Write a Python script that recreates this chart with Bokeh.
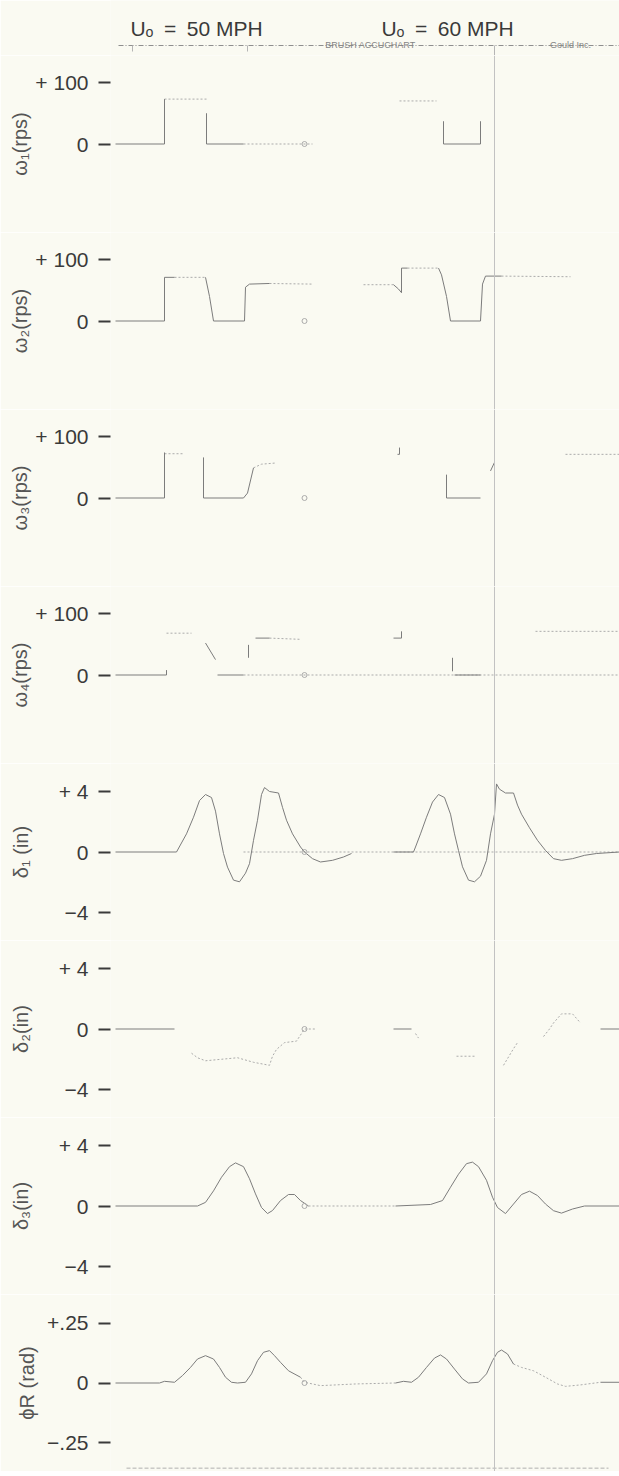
import math
from bokeh.plotting import figure
from bokeh.layouts import column
from bokeh.models import FixedTicker, Span, Range1d
from bokeh.embed import file_html
from bokeh.resources import INLINE
from bokeh.core.properties import value

NaN = float("nan")

# ---------------- data (chart position in divisions, channel values) ----------------
TITLES = ["U\u2092\u2002=\u200250 MPH", "U\u2092\u2002=\u200260 MPH"]
TITLE_T = [8.1, 33.2]
CREASE_T = 37.9
MARK_T = 18.9

# omega 1 (rps)
W1_T = [0, 4.9, 4.9, NaN, 9.1, 9.1, 12.8, NaN, 32.8, 32.8, 36.5, 36.5]
W1_V = [0, 0, 73, NaN, 50, 0, 0, NaN, 37, 0, 0, 37]
W1_FT = [4.9, 9.1, NaN, 12.8, 19.7, NaN, 28.4, 32.1]
W1_FV = [73, 73, NaN, 0, 0, NaN, 70, 70]

# omega 2 (rps)
W2_T = [0, 4.9, 4.9, 5.9, NaN, 9.0, 9.4, 9.8, 12.9, 13.0, 13.4, 15.4, NaN,
        27.8, 28.3, 28.6, 28.6, 29.2, NaN, 32.3, 32.6, 33.1, 33.5, 36.5, 36.7, 37.0, 38.6]
W2_V = [0, 0, 71, 71, NaN, 71, 40, 0, 0, 55, 60, 61, NaN,
        59, 52, 46, 86, 86, NaN, 86, 75, 40, 0, 0, 60, 73, 73]
W2_FT = [5.9, 9.0, NaN, 15.4, 19.7, NaN, 24.8, 27.8, NaN, 29.2, 32.3, NaN, 38.6, 45.5]
W2_FV = [71, 71, NaN, 61, 60, NaN, 59, 59, NaN, 86, 86, NaN, 73, 72]

# omega 3 (rps)
W3_T = [0, 4.9, 4.9, NaN, 8.8, 8.8, 12.8, 13.2, 13.8, NaN, 28.2, 28.4, 28.4, NaN,
        33.1, 33.1, 36.5, NaN, 37.5, 37.9]
W3_V = [0, 0, 74, NaN, 66, 0, 0, 8, 49, NaN, 71, 71, 82, NaN,
        38, 0, 0, NaN, 44, 58]
W3_FT = [4.9, 6.9, NaN, 13.8, 14.6, 16.1, NaN, 45.0, 50.4]
W3_FV = [72, 72, NaN, 49, 55, 57, NaN, 71, 71]

# omega 4 (rps)
W4_T = [0, 5.1, 5.1, NaN, 9.0, 10.0, NaN, 10.2, 12.8, NaN, 13.3, 13.3, NaN, 14.0, 15.4, NaN,
        27.8, 28.6, 28.6, NaN, 33.7, 33.7, NaN, 33.9, 36.5]
W4_V = [0, 0, 8, NaN, 52, 25, NaN, 0, 0, NaN, 28, 49, NaN, 60, 60, NaN,
        60, 60, 71, NaN, 28, 6, NaN, 0, 0]
W4_FT = [5.1, 7.6, NaN, 15.4, 18.5, NaN, 12.8, 50.4, NaN, 42.0, 50.4]
W4_FV = [68, 68, NaN, 60, 58, NaN, 0, 0, NaN, 71, 71]

# delta 1 (in)
D1_T = [0, 6.1, 7.1, 7.8, 8.4, 9.0, 9.6, 10.0, 10.4, 10.8, 11.2, 11.8, 12.4, 13.0, 13.4, 13.8,
        14.2, 14.6, 14.9, 15.4, 16.3, 16.7, 17.1, 17.7, 18.5, 18.9, 19.7, 20.5, 21.7, 22.8, 23.6, NaN,
        27.8, 29.8, 30.0, 30.5, 31.1, 31.7, 32.3, 32.9, 33.5, 33.9, 34.3, 34.7, 35.3, 35.9, 36.5,
        37.1, 37.5, 37.9, 38.1, 38.4, 39.0, 39.8, 40.2, 40.6, 41.4, 42.2, 43.0, 43.8, 44.6, 45.7,
        46.9, 48.1, 50.4]
D1_V = [0, 0, 1.2, 2.3, 3.4, 3.8, 3.6, 2.7, 1.2, -0.1, -1.0, -1.86, -1.97, -1.4, -0.77, 0.77,
        2.1, 3.8, 4.26, 4.0, 3.9, 2.95, 2.1, 1.2, 0.33, 0, -0.44, -0.66, -0.55, -0.33, -0.1, NaN,
        0, 0, 0.33, 1.2, 2.3, 3.3, 3.8, 3.6, 2.5, 1.2, 0.1, -0.98, -1.86, -1.97, -1.6,
        -0.55, 1.2, 2.5, 4.5, 4.15, 3.9, 3.9, 3.1, 2.5, 1.6, 0.77, 0.1, -0.44, -0.55, -0.44,
        -0.22, -0.1, 0]
D1_FT = [12.8, 50.4]
D1_FV = [0, 0]

# delta 2 (in)
D2_T = [0, 5.9, NaN, 27.8, 29.6, NaN, 48.5, 50.4]
D2_V = [0, 0, NaN, 0, 0, NaN, 0, 0]
D2_FT = [7.6, 8.2, 9.0, 10.6, 12.2, 13.8, 15.4, 15.7, 16.1, 16.9, 18.1, 18.9, 20.1, NaN,
         30.0, 30.3, NaN, 34.1, 35.9, NaN, 38.8, 39.8, 40.2, NaN,
         42.8, 43.4, 43.8, 44.6, 45.7, 46.5]
D2_FV = [-1.6, -1.9, -2.1, -2.0, -1.9, -2.2, -2.4, -1.8, -1.35, -0.9, -0.8, 0, 0, NaN,
         -0.3, -0.6, NaN, -1.8, -1.8, NaN, -2.4, -1.3, -0.9, NaN,
         -0.5, 0, 0.4, 1.0, 1.0, 0.4]

# delta 3 (in)
D3_T = [0, 8.2, 9.0, 9.8, 10.6, 11.4, 12.0, 12.8, 13.4, 14.0, 14.6, 15.2, 15.7, 16.5, 17.3,
        17.9, 18.5, 19.3, NaN,
        28.0, 31.5, 32.7, 33.5, 34.3, 35.1, 35.7, 36.3, 37.1, 37.7, 38.2, 39.0, 39.8, 40.6,
        41.4, 42.2, 43.0, 43.8, 44.6, 45.7, 46.9, 50.4]
D3_V = [0, 0, 0.24, 1.0, 1.9, 2.6, 2.85, 2.6, 1.8, 0.8, -0.1, -0.5, -0.3, 0.36, 0.76,
        0.76, 0.36, 0, NaN,
        0, 0.1, 0.36, 1.24, 2.1, 2.8, 2.9, 2.6, 1.7, 0.58, -0.1, -0.5, 0.13, 0.76,
        0.98, 0.69, 0.13, -0.31, -0.47, -0.2, 0, 0]
D3_FT = [19.3, 28.0]
D3_FV = [0, 0]

# phi R (rad)
PR_T = [0, 4.4, 4.9, 5.9, 6.7, 7.5, 8.2, 9.0, 9.8, 10.4, 11.0, 11.6, 12.2, 13.0, 13.6, 14.2,
        14.8, 15.4, 15.9, 16.5, 17.3, 18.5, NaN,
        28.0, 28.8, 29.6, 30.3, 31.1, 31.9, 32.5, 33.1, 33.9, 34.7, 35.3, 36.3, 37.1, 37.7,
        38.2, 38.6, 39.2, 39.8, NaN, 48.5, 50.4]
PR_V = [0, 0, 0.007, 0.003, 0.031, 0.065, 0.1, 0.114, 0.1, 0.065, 0.024, 0.003, 0, 0.003,
        0.038, 0.093, 0.128, 0.135, 0.114, 0.086, 0.051, 0.024, NaN,
        0, 0.007, 0.003, 0.024, 0.065, 0.104, 0.117, 0.1, 0.058, 0.017, 0, 0.003, 0.038, 0.093,
        0.128, 0.1375, 0.121, 0.079, NaN, 0.003, 0.003]
PR_FT = [18.5, 18.9, 20.5, 24.0, 28.0, NaN, 39.8, 40.6, 41.8, 43.0, 44.2, 45.0, 46.5, 48.5]
PR_FV = [0.024, 0.003, -0.011, -0.004, 0, NaN, 0.079, 0.065, 0.051, 0.024, -0.004, -0.014,
         -0.008, 0.003]
PAPER_EDGE = -0.355

CHANNELS = [
    ("\u03c9\u2081(rps)", 143.9, [0, 100], {0: "0", 100: "+ 100"}, W1_T, W1_V, W1_FT, W1_FV),
    ("\u03c9\u2082(rps)", 143.9, [0, 100], {0: "0", 100: "+ 100"}, W2_T, W2_V, W2_FT, W2_FV),
    ("\u03c9\u2083(rps)", 143.9, [0, 100], {0: "0", 100: "+ 100"}, W3_T, W3_V, W3_FT, W3_FV),
    ("\u03c9\u2084(rps)", 143.9, [0, 100], {0: "0", 100: "+ 100"}, W4_T, W4_V, W4_FT, W4_FV),
    ("\u03b4\u2081 (in)", 5.85, [-4, 0, 4], {-4: "\u22124", 0: "0", 4: "+ 4"}, D1_T, D1_V, D1_FT, D1_FV),
    ("\u03b4\u2082(in)", 5.85, [-4, 0, 4], {-4: "\u22124", 0: "0", 4: "+ 4"}, D2_T, D2_V, D2_FT, D2_FV),
    ("\u03b4\u2083(in)", 5.85, [-4, 0, 4], {-4: "\u22124", 0: "0", 4: "+ 4"}, D3_T, D3_V, D3_FT, D3_FV),
    ("\u03d5R (rad)", 0.369, [-0.25, 0, 0.25], {-0.25: "\u2212.25", 0: "0", 0.25: "+.25"}, PR_T, PR_V, PR_FT, PR_FV),
]

# ---------------- styling ----------------
BG = "#fafaf2"
INK = "#3a3a3a"
TRACE = "#7c7c7c"
FAINT = "#ababab"
FONT = "Liberation Sans"
W = 619
LEFT = 110
xr = Range1d(-0.5, 50.4)

# header
h = figure(width=W, height=55, x_range=xr, y_range=Range1d(0, 55),
           output_backend="svg", toolbar_location=None, min_border=0, min_border_left=LEFT)
h.axis.visible = False
h.grid.visible = False
h.outline_line_color = None
h.background_fill_color = BG
h.border_fill_color = BG
h.text(x=TITLE_T, y=[27, 27], text=TITLES, text_font=value(FONT), text_font_size="21px",
       text_color=INK, text_align="center", text_baseline="alphabetic")
h.line(x=[0.3, 50.4], y=[10, 10], line_color="#8e8e8e", line_width=1, line_dash="5 2 1 2")
h.text(x=[25.5, 45.5], y=[10.5, 10.5], text=["BRUSH ACCUCHART", "Gould Inc."], text_font=value(FONT),
       text_font_size="9px", text_color="#858585", text_align="center", text_baseline="alphabetic")
h.segment(x0=[1.7, 13.2, CREASE_T], y0=[10, 10, 10], x1=[1.7, 13.2, CREASE_T], y1=[4, 4, 0],
          line_color="#b5b5b5", line_width=1)

panels = [h]
for i, (lab, half, ticks, ovr, t, v, ft, fv) in enumerate(CHANNELS):
    p = figure(width=W, height=177, x_range=xr, y_range=Range1d(-half, half),
               output_backend="svg", toolbar_location=None, min_border=0, min_border_left=LEFT)
    p.xaxis.visible = False
    p.grid.visible = False
    p.outline_line_color = None
    p.background_fill_color = BG
    p.border_fill_color = BG
    ax = p.yaxis[0]
    ax.ticker = FixedTicker(ticks=ticks)
    ax.major_label_overrides = ovr
    ax.axis_line_color = None
    ax.major_tick_in = 0
    ax.major_tick_out = 12
    ax.major_tick_line_width = 2
    ax.major_tick_line_color = INK
    ax.minor_tick_line_color = None
    ax.major_label_text_font = FONT
    ax.major_label_text_font_size = "21px"
    ax.major_label_text_color = INK
    ax.major_label_standoff = 10
    ax.axis_label = lab
    ax.axis_label_text_font = FONT
    ax.axis_label_text_font_size = "20px"
    ax.axis_label_text_font_style = "normal"
    ax.axis_label_text_color = "#555555"
    ax.axis_label_standoff = 1 if i < 4 else (24 if i < 7 else 6)
    p.add_layout(Span(location=CREASE_T, dimension="height", line_color="#c2c2c2", line_width=1))
    p.line(x=ft, y=fv, line_color=FAINT, line_width=1, line_dash="2 2")
    p.line(x=t, y=v, line_color=TRACE, line_width=1)
    p.scatter(x=[MARK_T], y=[0], marker="circle", size=5, fill_color=None, line_color=FAINT)
    if i == 7:
        p.line(x=[1.1, 49.3], y=[PAPER_EDGE, PAPER_EDGE], line_color="#b0b0b0", line_width=1,
               line_dash="4 2")
    panels.append(p)

layout = column(*panels, spacing=0)
open("out.html", "w").write(file_html(layout, INLINE))
